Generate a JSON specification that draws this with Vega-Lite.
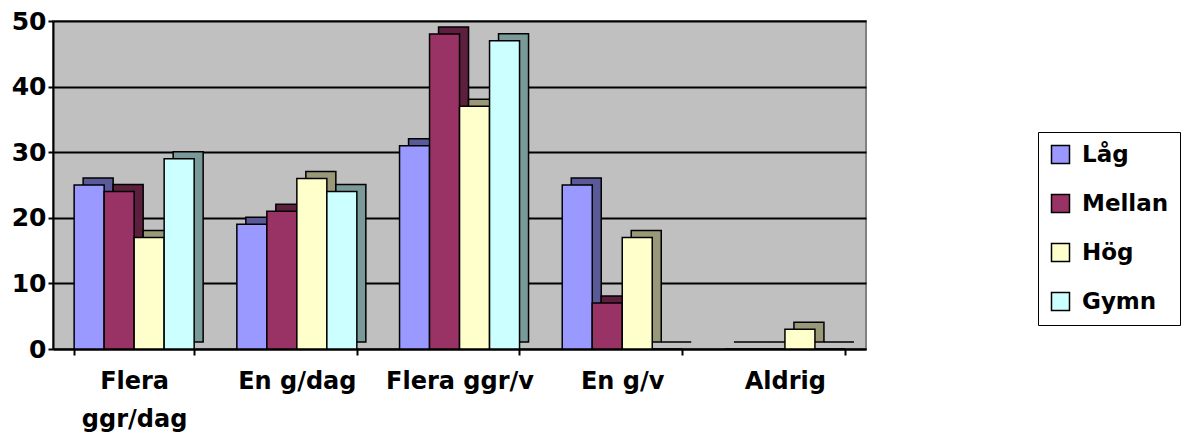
{
  "$schema": "https://vega.github.io/schema/vega-lite/v6.json",
  "width": 813,
  "height": 328,
  "autosize": {"type": "none"},
  "padding": {"left": 53, "top": 21, "right": 321, "bottom": 94},
  "background": "white",
  "view": {"fill": "#C0C0C0", "stroke": "#808080", "strokeWidth": 2},
  "config": {"font": "DejaVu Sans"},
  "data": {
    "values": [
      {"Kategori": "Flera ggr/dag", "Grupp": "Låg", "Värde": 25},
      {"Kategori": "Flera ggr/dag", "Grupp": "Mellan", "Värde": 24},
      {"Kategori": "Flera ggr/dag", "Grupp": "Hög", "Värde": 17},
      {"Kategori": "Flera ggr/dag", "Grupp": "Gymn", "Värde": 29},
      {"Kategori": "En g/dag", "Grupp": "Låg", "Värde": 19},
      {"Kategori": "En g/dag", "Grupp": "Mellan", "Värde": 21},
      {"Kategori": "En g/dag", "Grupp": "Hög", "Värde": 26},
      {"Kategori": "En g/dag", "Grupp": "Gymn", "Värde": 24},
      {"Kategori": "Flera ggr/v", "Grupp": "Låg", "Värde": 31},
      {"Kategori": "Flera ggr/v", "Grupp": "Mellan", "Värde": 48},
      {"Kategori": "Flera ggr/v", "Grupp": "Hög", "Värde": 37},
      {"Kategori": "Flera ggr/v", "Grupp": "Gymn", "Värde": 47},
      {"Kategori": "En g/v", "Grupp": "Låg", "Värde": 25},
      {"Kategori": "En g/v", "Grupp": "Mellan", "Värde": 7},
      {"Kategori": "En g/v", "Grupp": "Hög", "Värde": 17},
      {"Kategori": "En g/v", "Grupp": "Gymn", "Värde": 0},
      {"Kategori": "Aldrig", "Grupp": "Låg", "Värde": 0},
      {"Kategori": "Aldrig", "Grupp": "Mellan", "Värde": 0},
      {"Kategori": "Aldrig", "Grupp": "Hög", "Värde": 3},
      {"Kategori": "Aldrig", "Grupp": "Gymn", "Värde": 0}
    ]
  },
  "encoding": {
    "x": {
      "field": "Kategori",
      "type": "nominal",
      "sort": ["Flera ggr/dag", "En g/dag", "Flera ggr/v", "En g/v", "Aldrig"],
      "scale": {"paddingInner": 0.263, "paddingOuter": 0.13},
      "axis": {
        "title": null,
        "labelAngle": 0,
        "labelFontSize": 24,
        "labelFontWeight": "bold",
        "labelColor": "black",
        "labelPadding": 14,
        "labelLineHeight": 38,
        "labelExpr": "datum.value == 'Flera ggr/dag' ? ['Flera', 'ggr/dag'] : datum.value",
        "tickBand": "extent",
        "tickSize": 6,
        "tickColor": "black",
        "tickWidth": 2,
        "domainColor": "black",
        "domainWidth": 2,
        "grid": false
      }
    },
    "y": {
      "field": "Värde",
      "type": "quantitative",
      "scale": {"domain": [0, 50], "nice": false},
      "axis": {
        "title": null,
        "values": [0, 10, 20, 30, 40, 50],
        "labelFontSize": 25,
        "labelFontWeight": "bold",
        "labelColor": "black",
        "labelPadding": 2,
        "tickSize": 5,
        "tickColor": "black",
        "tickWidth": 2,
        "domainColor": "black",
        "domainWidth": 2,
        "gridColor": "black",
        "gridWidth": 2
      }
    }
  },
  "layer": [
    {
      "mark": {"type": "bar", "yOffset": -7, "y2Offset": -7, "stroke": "black", "strokeWidth": 1.5},
      "encoding": {
        "xOffset": {
          "field": "Grupp",
          "type": "nominal",
          "sort": ["Låg", "Mellan", "Hög", "Gymn"],
          "scale": {"range": [9, 129], "paddingInner": 0, "paddingOuter": 0}
        },
        "fill": {
          "field": "Grupp",
          "type": "nominal",
          "scale": {"domain": ["Låg", "Mellan", "Hög", "Gymn"], "range": ["#5A5A99", "#5C1F3D", "#99997A", "#7A9999"]},
          "legend": null
        }
      }
    },
    {
      "mark": {"type": "bar", "stroke": "black", "strokeWidth": 1.5},
      "encoding": {
        "xOffset": {
          "field": "Grupp",
          "type": "nominal",
          "sort": ["Låg", "Mellan", "Hög", "Gymn"],
          "scale": {"range": [0, 120], "paddingInner": 0, "paddingOuter": 0}
        },
        "fill": {
          "field": "Grupp",
          "type": "nominal",
          "scale": {"domain": ["Låg", "Mellan", "Hög", "Gymn"], "range": ["#9999FF", "#993366", "#FFFFCC", "#CCFFFF"]},
          "legend": {
            "title": null,
            "orient": "none",
            "legendX": 985,
            "legendY": 111,
            "direction": "vertical",
            "strokeColor": "black",
            "fillColor": "white",
            "padding": 11,
            "symbolType": "square",
            "symbolSize": 324,
            "symbolStrokeColor": "black",
            "symbolStrokeWidth": 1.5,
            "labelFontSize": 23,
            "labelFontWeight": "bold",
            "labelColor": "black",
            "labelOffset": 10,
            "rowPadding": 24
          }
        }
      }
    }
  ],
  "resolve": {"scale": {"fill": "independent", "xOffset": "independent"}}
}
